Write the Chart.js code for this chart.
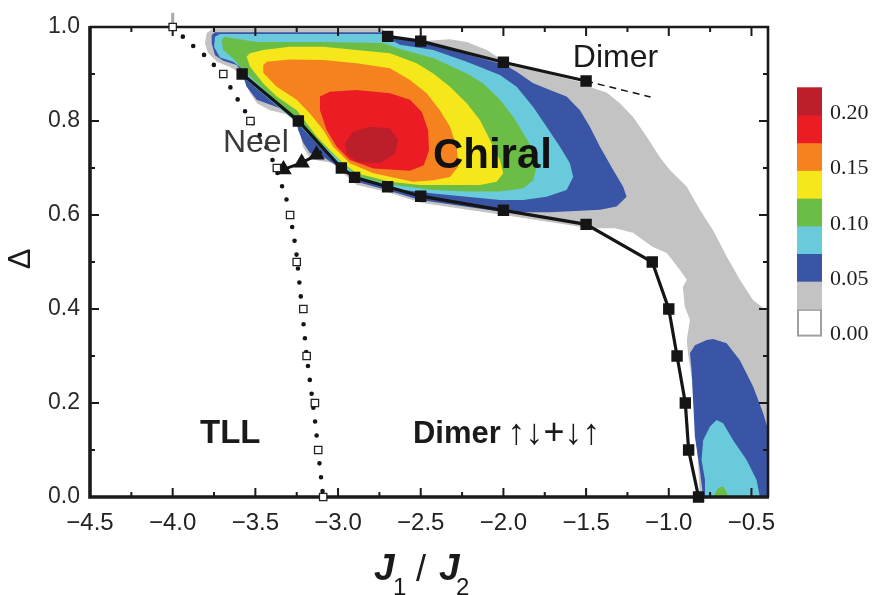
<!DOCTYPE html>
<html>
<head>
<meta charset="utf-8">
<script src="https://cdn.jsdelivr.net/npm/chart.js@4.4.1/dist/chart.umd.min.js"></script>
<style>
  body { margin: 0; background: #fff; }
  canvas { display: block; }
</style>
</head>
<body>
<canvas id="myChart" width="875" height="595"></canvas>
<script>
const ctx = document.getElementById('myChart');

// axis ticks
const xTicks = [-4.5, -4.0, -3.5, -3.0, -2.5, -2.0, -1.5, -1.0, -0.5];
const yTicks = [0.0, 0.2, 0.4, 0.6, 0.8, 1.0];

// colour scale: lower bound of each band and its fill
const levelValues = [0.00, 0.025, 0.05, 0.075, 0.10, 0.125, 0.15, 0.175, 0.20];
const levelColors = ['#ffffff', '#c3c3c3', '#3a55a6', '#69cadb', '#6bbd46', '#f6e71a', '#f5821f', '#ec1c24', '#bd1e2b'];

// contour outlines [J1/J2, Delta]
const grayRegion = [[-3.794,0.987],[-3.762,0.996],[-2.729,0.996],[-2.704,0.983],[-2.487,0.970],[-2.414,0.972],[-2.323,0.974],[-2.221,0.968],[-2.100,0.951],[-1.979,0.923],[-1.495,0.879],[-1.459,0.870],[-1.374,0.860],[-1.296,0.838],[-1.217,0.809],[-1.132,0.766],[-1.054,0.723],[-0.993,0.696],[-0.891,0.660],[-0.812,0.611],[-0.733,0.568],[-0.649,0.511],[-0.570,0.462],[-0.491,0.419],[-0.400,0.394],[-0.400,0.000],[-0.812,0.000],[-0.824,0.079],[-0.842,0.164],[-0.860,0.249],[-0.884,0.306],[-0.891,0.334],[-0.872,0.377],[-0.903,0.404],[-0.915,0.447],[-0.891,0.462],[-0.933,0.483],[-1.012,0.519],[-1.096,0.532],[-1.217,0.562],[-1.326,0.572],[-1.477,0.572],[-1.997,0.600],[-2.499,0.626],[-2.704,0.649],[-2.886,0.664],[-2.970,0.689],[-3.031,0.711],[-3.109,0.715],[-3.170,0.721],[-3.212,0.745],[-3.230,0.774],[-3.242,0.796],[-3.291,0.813],[-3.412,0.823],[-3.490,0.838],[-3.533,0.860],[-3.563,0.887],[-3.605,0.904],[-3.654,0.915],[-3.732,0.926],[-3.787,0.945],[-3.805,0.966]];
const blueRegion = [[-3.764,0.983],[-3.744,0.989],[-2.729,0.989],[-2.704,0.981],[-2.487,0.968],[-1.991,0.919],[-1.920,0.905],[-1.822,0.881],[-1.719,0.866],[-1.618,0.852],[-1.537,0.823],[-1.477,0.788],[-1.416,0.745],[-1.336,0.696],[-1.276,0.660],[-1.255,0.639],[-1.316,0.618],[-1.416,0.611],[-1.719,0.606],[-1.991,0.606],[-2.505,0.632],[-2.706,0.653],[-2.888,0.671],[-2.989,0.700],[-3.091,0.724],[-3.170,0.732],[-3.210,0.753],[-3.241,0.781],[-3.261,0.813],[-3.371,0.830],[-3.492,0.845],[-3.553,0.873],[-3.583,0.905],[-3.613,0.919],[-3.694,0.928],[-3.744,0.940],[-3.764,0.965]];
const cyanRegion = [[-3.750,0.958],[-3.744,0.979],[-3.714,0.985],[-2.729,0.985],[-2.704,0.977],[-2.626,0.962],[-2.424,0.951],[-2.222,0.926],[-2.021,0.898],[-1.920,0.873],[-1.820,0.830],[-1.739,0.788],[-1.658,0.745],[-1.598,0.710],[-1.578,0.681],[-1.618,0.653],[-1.739,0.639],[-1.880,0.632],[-2.021,0.632],[-2.222,0.639],[-2.424,0.646],[-2.626,0.654],[-2.704,0.660],[-2.886,0.679],[-2.976,0.704],[-3.079,0.734],[-3.240,0.793],[-3.580,0.895],[-3.583,0.912],[-3.634,0.926],[-3.714,0.935]];
const greenRegion = [[-3.704,0.972],[-3.684,0.979],[-3.654,0.977],[-3.492,0.968],[-3.091,0.968],[-2.729,0.966],[-2.626,0.953],[-2.424,0.934],[-2.222,0.901],[-2.122,0.880],[-2.021,0.845],[-1.941,0.809],[-1.880,0.774],[-1.820,0.738],[-1.800,0.703],[-1.820,0.674],[-1.880,0.657],[-2.021,0.650],[-2.222,0.650],[-2.424,0.653],[-2.626,0.662],[-2.704,0.666],[-2.886,0.683],[-2.970,0.709],[-3.242,0.798],[-3.575,0.909],[-3.634,0.933],[-3.694,0.951]];
const yellowRegion = [[-3.553,0.937],[-3.533,0.944],[-3.452,0.951],[-3.291,0.958],[-3.089,0.958],[-2.888,0.951],[-2.686,0.944],[-2.525,0.923],[-2.424,0.901],[-2.323,0.873],[-2.222,0.838],[-2.142,0.802],[-2.082,0.760],[-2.021,0.717],[-2.001,0.689],[-2.041,0.671],[-2.142,0.664],[-2.323,0.664],[-2.505,0.664],[-2.686,0.671],[-2.888,0.689],[-2.969,0.710],[-3.049,0.738],[-3.129,0.767],[-3.190,0.795],[-3.250,0.823],[-3.371,0.852],[-3.452,0.880],[-3.533,0.916]];
const orangeRegion = [[-3.452,0.919],[-3.432,0.926],[-3.291,0.931],[-3.089,0.930],[-2.888,0.923],[-2.686,0.912],[-2.565,0.887],[-2.464,0.859],[-2.384,0.823],[-2.323,0.788],[-2.283,0.745],[-2.273,0.703],[-2.323,0.681],[-2.424,0.674],[-2.545,0.671],[-2.787,0.689],[-2.928,0.710],[-3.029,0.745],[-3.089,0.781],[-3.170,0.816],[-3.250,0.845],[-3.371,0.873],[-3.452,0.902]];
const redRegion = [[-3.109,0.852],[-3.049,0.862],[-2.888,0.866],[-2.686,0.859],[-2.565,0.845],[-2.493,0.819],[-2.456,0.781],[-2.450,0.738],[-2.481,0.706],[-2.565,0.694],[-2.787,0.699],[-2.928,0.717],[-3.008,0.745],[-3.069,0.781],[-3.109,0.823]];
const darkRedRegion = [[-2.958,0.753],[-2.908,0.777],[-2.807,0.788],[-2.686,0.784],[-2.636,0.760],[-2.656,0.731],[-2.747,0.710],[-2.888,0.713],[-2.948,0.731]];
const blueLower = [[-0.771,0.334],[-0.731,0.336],[-0.650,0.327],[-0.570,0.291],[-0.490,0.235],[-0.429,0.178],[-0.400,0.143],[-0.400,0.000],[-0.792,0.000],[-0.812,0.057],[-0.842,0.128],[-0.852,0.199],[-0.862,0.270],[-0.872,0.306],[-0.842,0.323]];
const cyanLower = [[-0.711,0.164],[-0.751,0.150],[-0.792,0.121],[-0.802,0.079],[-0.781,0.036],[-0.781,0.000],[-0.449,0.000],[-0.469,0.036],[-0.530,0.079],[-0.611,0.121],[-0.671,0.157]];
const greenLower = [[-0.732,0.000],[-0.701,0.019],[-0.671,0.023],[-0.651,0.011],[-0.641,0.000]];

// phase boundaries
const upperX = [-2.70, -2.50, -2.00, -1.50];
const upperY = [0.98, 0.97, 0.925, 0.885];
const lowerX = [-3.58, -3.24, -2.98, -2.90, -2.70, -2.50, -2.00, -1.50, -1.10, -1.00, -0.95, -0.90, -0.88, -0.82];
const lowerY = [0.90, 0.80, 0.70, 0.68, 0.66, 0.64, 0.61, 0.58, 0.50, 0.40, 0.30, 0.20, 0.10, 0.00];
const dashX = [-1.50, -1.11];
const dashY = [0.885, 0.851];
const neelX = [-3.33, -3.22, -3.13, -3.10];
const neelY = [0.697, 0.711, 0.728, 0.735];
const tllDotX = [-4.00, -3.895, -3.817, -3.75, -3.672, -3.623, -3.577, -3.49, -3.412, -3.361, -3.331, -3.307, -3.281, -3.255, -3.232, -3.212, -3.19, -3.16, -3.135, -3.115, -3.09];
const tllDotY = [1.00, 0.965, 0.943, 0.919, 0.884, 0.855, 0.829, 0.78, 0.731, 0.685, 0.653, 0.628, 0.582, 0.529, 0.45, 0.38, 0.30, 0.22, 0.15, 0.08, 0.00];
const tllSqX = [-4.00, -3.694, -3.53, -3.37, -3.29, -3.25, -3.21, -3.19, -3.14, -3.12, -3.09];
const tllSqY = [1.00, 0.90, 0.80, 0.70, 0.60, 0.50, 0.40, 0.30, 0.20, 0.10, 0.00];
const errX = [-4.00, -4.00];
const errY = [1.00, 1.03];

const pairs = arr => arr.map(p => ({x: p[0], y: p[1]}));
const zipXY = (xs, ys) => xs.map((v, i) => ({x: v, y: ys[i]}));

const regions = [
    [grayRegion, 1], [blueRegion, 2], [cyanRegion, 3], [greenRegion, 4],
    [yellowRegion, 5], [orangeRegion, 6], [redRegion, 7], [darkRedRegion, 8],
    [blueLower, 2], [cyanLower, 3], [greenLower, 4]
];

const LINE = '#151515';
const SANS = '"Liberation Sans", Arial, sans-serif';

const phaseLabels = [
    {text: 'Dimer', x: -1.58, y: 0.915, font: '32px ' + SANS, color: '#1a1a1a'},
    {text: 'Neel', x: -3.696, y: 0.734, font: '32px ' + SANS, color: '#3a3a3a'},
    {text: 'Chiral', x: -2.426, y: 0.700, font: 'bold 42px ' + SANS, color: '#111'},
    {text: 'TLL', x: -3.835, y: 0.115, font: 'bold 33px ' + SANS, color: '#1a1a1a'},
    {text: 'Dimer', x: -2.547, y: 0.115, font: 'bold 31px ' + SANS, color: '#1a1a1a'},
    {text: '\u2191\u2193+\u2193\u2191', x: -1.975, y: 0.113, font: '36px ' + SANS, color: '#1a1a1a'}
];

const datasets = regions.map(([poly, lvl]) => ({
    data: pairs(poly),
    region: true,
    backgroundColor: levelColors[lvl],
    showLine: false,
    pointRadius: 0,
    order: 20
}));

datasets.push(
    {
        data: zipXY(errX, errY), showLine: true, borderColor: '#a8a8a8', borderWidth: 3,
        pointRadius: 0, clip: false, order: 6
    }, {
        data: zipXY(tllDotX, tllDotY), showLine: true, borderColor: LINE, borderWidth: 4.6,
        borderDash: [0, 14], borderCapStyle: 'round', pointRadius: 0, clip: false, order: 5
    }, {
        data: zipXY(dashX, dashY), showLine: true, borderColor: LINE, borderWidth: 1.5,
        borderDash: [7, 5], pointRadius: 0, order: 4
    }, {
        data: zipXY(neelX, neelY), showLine: true, borderColor: LINE, borderWidth: 3,
        pointStyle: 'triangle', pointRadius: [6.5, 6.5, 6.5, 0], pointBackgroundColor: LINE,
        pointBorderColor: LINE, order: 3
    }, {
        data: zipXY(lowerX, lowerY), showLine: true, borderColor: LINE, borderWidth: 3.2,
        pointStyle: 'rect', pointRadius: 5.8, pointBackgroundColor: LINE, pointBorderColor: LINE,
        clip: false, order: 2
    }, {
        data: zipXY(upperX, upperY), showLine: true, borderColor: LINE, borderWidth: 3.2,
        pointStyle: 'rect', pointRadius: 5.8, pointBackgroundColor: LINE, pointBorderColor: LINE,
        clip: false, order: 2
    }, {
        data: zipXY(tllSqX, tllSqY), showLine: false, pointStyle: 'rect', pointRadius: 5.2,
        pointBackgroundColor: '#ffffff', pointBorderColor: '#222', pointBorderWidth: 1.3,
        clip: false, order: 1
    }
);

// contour fills, then frame with inward ticks, below the boundary lines
function drawRegions(chart) {
    const c = chart.ctx, a = chart.chartArea;
    c.save();
    c.beginPath();
    c.rect(a.left, a.top, a.right - a.left, a.bottom - a.top);
    c.clip();
    chart.data.datasets.forEach((ds, i) => {
        if (!ds.region) return;
        const pts = chart.getDatasetMeta(i).data;
        c.beginPath();
        pts.forEach((p, k) => k ? c.lineTo(p.x, p.y) : c.moveTo(p.x, p.y));
        c.closePath();
        c.fillStyle = ds.backgroundColor;
        c.fill();
    });
    c.restore();
}

function drawFrame(chart) {
    const c = chart.ctx, a = chart.chartArea;
    const sx = chart.scales.x, sy = chart.scales.y;
    c.save();
    c.strokeStyle = '#1a1a1a';
    c.lineWidth = 2;
    c.beginPath();
    for (let i = 0; i <= 16; i++) {
        const px = sx.getPixelForValue(-4.5 + 0.25 * i);
        const len = i % 2 === 0 ? 9 : 5;
        c.moveTo(px, a.bottom); c.lineTo(px, a.bottom - len);
        c.moveTo(px, a.top); c.lineTo(px, a.top + len);
    }
    for (let i = 0; i <= 10; i++) {
        const py = sy.getPixelForValue(0.1 * i);
        const len = i % 2 === 0 ? 9 : 5;
        c.moveTo(a.left, py); c.lineTo(a.left + len, py);
        c.moveTo(a.right, py); c.lineTo(a.right - len, py);
    }
    c.stroke();
    // top and right edges a little lighter than the two axes
    c.lineWidth = 2.6;
    c.beginPath();
    c.moveTo(a.left, a.top); c.lineTo(a.right, a.top); c.lineTo(a.right, a.bottom);
    c.stroke();
    c.lineWidth = 3.6;
    c.beginPath();
    c.moveTo(a.left, a.top - 1); c.lineTo(a.left, a.bottom); c.lineTo(a.right + 1, a.bottom);
    c.stroke();
    c.restore();
}

function drawTexts(chart) {
    const c = chart.ctx, a = chart.chartArea;
    const sx = chart.scales.x, sy = chart.scales.y;
    c.save();
    c.textAlign = 'left';
    c.textBaseline = 'alphabetic';
    phaseLabels.forEach(l => {
        c.font = l.font;
        c.fillStyle = l.color;
        c.fillText(l.text, sx.getPixelForValue(l.x), sy.getPixelForValue(l.y));
    });

    // axis titles
    c.fillStyle = '#1a1a1a';
    const cx = (a.left + a.right) / 2;
    c.font = 'bold italic 37px ' + SANS;
    c.fillText('J', cx - 55, 580);
    c.fillText('J', cx + 10, 580);
    c.font = '24px ' + SANS;
    c.fillText('1', cx - 36, 595);
    c.fillText('2', cx + 27, 595);
    c.font = '36px ' + SANS;
    c.fillText('/', cx - 13, 581);

    c.save();
    c.translate(21, (a.top + a.bottom) / 2 - 3);
    c.rotate(-Math.PI / 2);
    c.font = '31px ' + SANS;
    c.textAlign = 'center';
    c.textBaseline = 'middle';
    c.fillText('\u0394', 0, 0);
    c.restore();

    // colour scale
    const bx = 797, bw = 25, bh = 27.7, top = 87.3;
    const n = levelValues.length;
    for (let k = 0; k < n; k++) {
        const yTop = top + (n - 1 - k) * bh;
        c.fillStyle = levelColors[k];
        c.fillRect(bx, yTop, bw, bh + 0.5);
        if (k === 0) {
            c.strokeStyle = '#a0a0a0';
            c.lineWidth = 2;
            c.strokeRect(bx + 1, yTop + 1, bw - 2, bh - 2);
        }
        if (Math.round(levelValues[k] * 1000) % 50 === 0) {
            c.fillStyle = '#1e1e1e';
            c.font = '22px "Liberation Serif", "Times New Roman", serif';
            c.textBaseline = 'middle';
            c.fillText(levelValues[k].toFixed(2), 830, yTop + bh - 2);
        }
    }
    c.restore();
}

const phasePlugin = {
    id: 'phaseMap',
    beforeDatasetsDraw(chart) {
        drawRegions(chart);
        drawFrame(chart);
    },
    afterDatasetsDraw(chart) {
        drawTexts(chart);
    }
};

const myChart = new Chart(ctx, {
    type: 'scatter',
    data: {datasets: datasets},
    plugins: [phasePlugin],
    options: {
        responsive: false,
        animation: false,
        devicePixelRatio: 1,
        events: [],
        layout: {padding: {left: 0, right: 107, top: 27, bottom: 0}},
        plugins: {legend: {display: false}, tooltip: {enabled: false}},
        scales: {
            x: {
                type: 'linear',
                min: -4.5,
                max: -0.4,
                afterBuildTicks: s => { s.ticks = xTicks.map(v => ({value: v})); },
                afterFit: s => { s.height = 98; },
                grid: {display: false, drawTicks: false},
                border: {display: false},
                ticks: {
                    padding: 12,
                    color: '#222',
                    font: {family: SANS, size: 24},
                    maxRotation: 0,
                    callback: v => (v < 0 ? '\u2212' : '') + Math.abs(v).toFixed(1)
                }
            },
            y: {
                type: 'linear',
                min: 0,
                max: 1,
                afterBuildTicks: s => { s.ticks = yTicks.map(v => ({value: v})); },
                afterFit: s => { s.width = 90; },
                grid: {display: false, drawTicks: false},
                border: {display: false},
                ticks: {
                    padding: 10,
                    color: '#2a2a2a',
                    font: {family: SANS, size: 23},
                    callback: v => v.toFixed(1)
                }
            }
        }
    }
});
</script>
</body>
</html>
